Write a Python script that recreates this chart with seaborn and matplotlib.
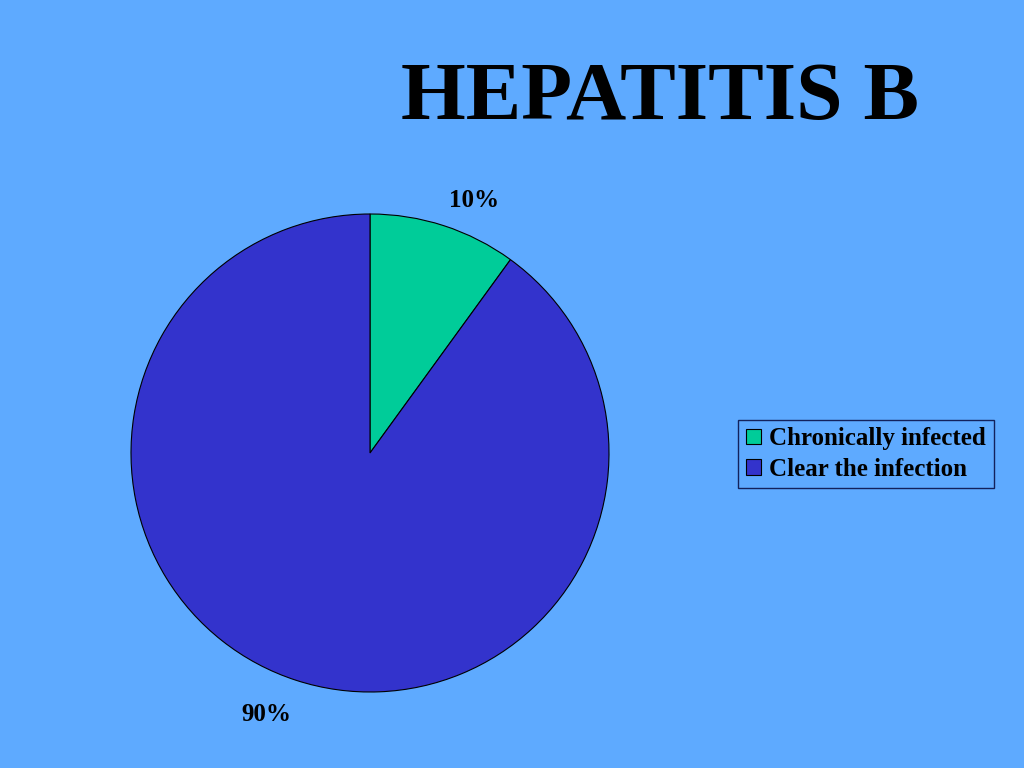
import numpy as np
import matplotlib.pyplot as plt
import seaborn as sns

# chart data
categories = ["Chronically infected", "Clear the infection"]
shares = [10, 90]
colors = ["#00CC99", "#3333CC"]
title = "HEPATITIS B"

bg = "#5EAAFF"

sns.set_theme(style="white")
plt.rcParams['font.family'] = ['Liberation Serif', 'DejaVu Serif']

fig = plt.figure(figsize=(10.24, 7.68), dpi=100)
fig.patch.set_facecolor(bg)

# pie axes: centre ~(370, 453) px, radius ~239 px
cx, cy, r = 370, 453, 239
ax = fig.add_axes([(cx - r) / 1024, (768 - cy - r) / 768, 2 * r / 1024, 2 * r / 768])
ax.set_facecolor(bg)
wedges, texts, autotexts = ax.pie(
    shares,
    colors=colors,
    startangle=90,
    counterclock=False,
    autopct="%d%%",
    pctdistance=1.16,
    wedgeprops=dict(edgecolor="black", linewidth=0.8),
    textprops=dict(fontsize=18, fontweight="bold", color="black"),
)
# labels sit a little clockwise of the wedge middle, like the original
for w, t in zip(wedges, autotexts):
    ang = np.deg2rad((w.theta1 + w.theta2) / 2 - 4)
    t.set_position((1.16 * np.cos(ang), 1.16 * np.sin(ang) - 0.02))
ax.set_xlim(-1, 1)
ax.set_ylim(-1, 1)
ax.set_aspect("equal")
ax.axis("off")

fig.text(660 / 1024, 1 - 99 / 768, title, ha="center", va="center",
         fontsize=60, fontweight="bold", color="black")

leg = fig.legend(
    wedges, categories,
    loc="center left", bbox_to_anchor=(738 / 1024, 1 - 454 / 768),
    frameon=True, fancybox=False, shadow=False,
    prop=dict(size=18, weight="bold"), labelcolor="black",
    handlelength=0.6, handleheight=0.6, handletextpad=0.35,
    borderpad=0.3, labelspacing=0.3, borderaxespad=0,
)
leg.get_frame().set_facecolor(bg)
leg.get_frame().set_edgecolor("#000033")
leg.get_frame().set_linewidth(1.0)
for h in leg.legend_handles:
    h.set_edgecolor("black")
    h.set_linewidth(0.8)

fig.savefig("out.png", dpi=100, facecolor=bg)
